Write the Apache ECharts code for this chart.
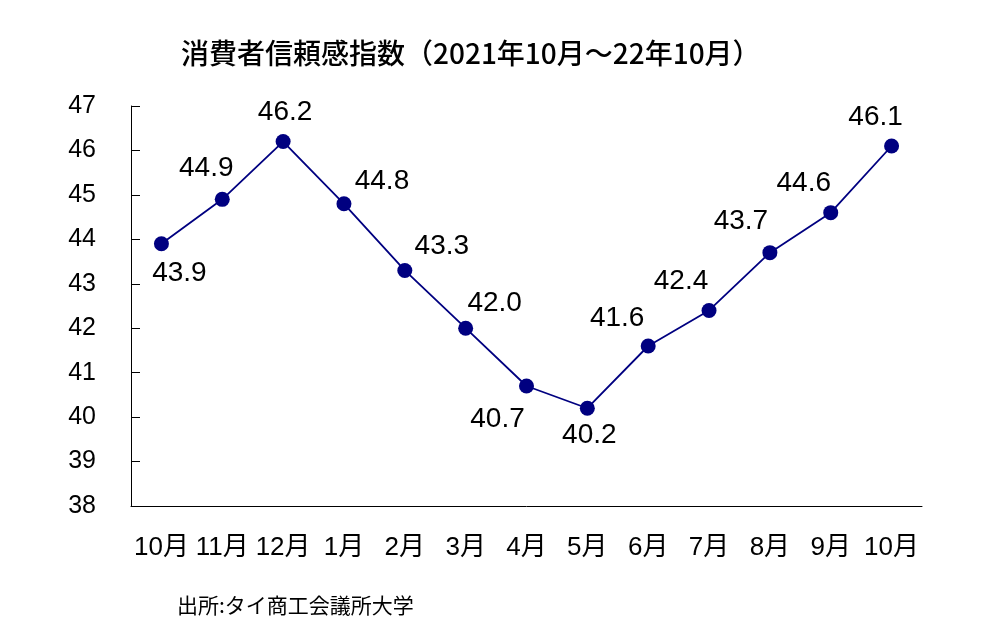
<!DOCTYPE html>
<html>
<head>
<meta charset="utf-8">
<script src="https://cdn.jsdelivr.net/npm/echarts@6/dist/echarts.min.js"></script>
<style>
  html, body { margin: 0; padding: 0; background: #fff; }
  #chart { width: 1000px; height: 640px; }
</style>
</head>
<body>
<div id="chart"></div>
<script>
// データ
const months = ['10月', '11月', '12月', '1月', '2月', '3月', '4月', '5月', '6月', '7月', '8月', '9月', '10月'];
const index = [43.9, 44.9, 46.2, 44.8, 43.3, 42.0, 40.7, 40.2, 41.6, 42.4, 43.7, 44.6, 46.1];
// ラベルの位置（点からのずれ）
const labelOffsets = [
  [18, 30], [-16, -31], [2, -29], [38, -22], [37, -24], [29, -25], [-29, 33],
  [2, 27], [-31, -28], [-28, -29], [-29, -31], [-27, -29], [-16, -29]
];

const numFont = 'Liberation Sans, Arial, Noto Sans CJK JP';
const chart = echarts.init(document.getElementById('chart'));

chart.setOption({
  animation: false,
  backgroundColor: '#fff',
  title: [
    {
      text: '消費者信頼感指数（2021年10月～22年10月）',
      left: 176, top: 34,
      textStyle: { fontFamily: 'Noto Sans CJK JP', fontSize: 28, fontWeight: 500, color: '#000' }
    },
    {
      text: '出所:タイ商工会議所大学',
      left: 172, top: 590,
      textStyle: { fontFamily: 'Noto Sans CJK JP', fontSize: 21, fontWeight: 'normal', color: '#000' }
    }
  ],
  grid: { left: 131, right: 78, top: 106, bottom: 134 },
  xAxis: {
    type: 'category',
    data: months,
    boundaryGap: true,
    axisLine: { lineStyle: { color: '#000', width: 1 } },
    axisTick: { inside: true, length: 9, lineStyle: { color: '#000' } },
    axisLabel: { margin: 29, color: '#000', fontSize: 26, fontFamily: numFont, interval: 0 }
  },
  yAxis: {
    type: 'value',
    min: 38, max: 47, interval: 1,
    splitLine: { show: false },
    axisLine: { show: true, lineStyle: { color: '#000', width: 1 } },
    axisTick: { show: true, inside: true, length: 9, lineStyle: { color: '#000' } },
    axisLabel: { margin: 35, color: '#000', fontSize: 25, fontFamily: numFont, padding: [5, 0, 0, 0] }
  },
  series: [{
    type: 'line',
    data: index.map((v, i) => ({
      value: v,
      label: { offset: labelOffsets[i] }
    })),
    symbol: 'circle',
    symbolSize: 15,
    lineStyle: { color: '#000080', width: 1.8 },
    itemStyle: { color: '#000080' },
    label: {
      show: true,
      position: 'inside',
      formatter: p => p.value.toFixed(1),
      color: '#000',
      fontSize: 28,
      fontFamily: numFont,
      align: 'center',
      verticalAlign: 'middle'
    }
  }]
});
</script>
</body>
</html>
